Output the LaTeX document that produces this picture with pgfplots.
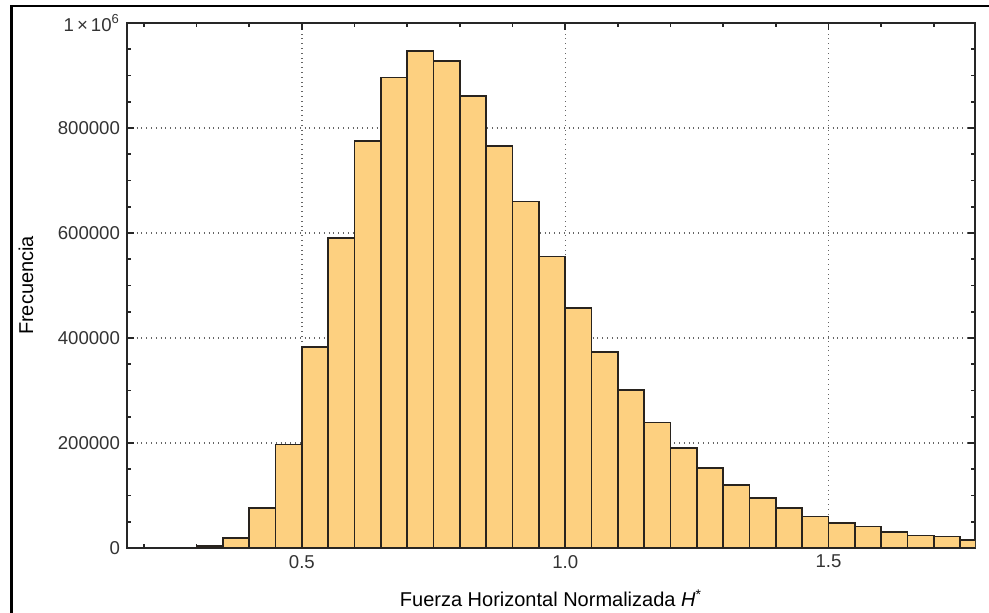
\documentclass[border=0pt]{standalone}
\usepackage{pgfplots}
\pgfplotsset{compat=1.18}
\usepackage{fontspec}
\setmainfont{Liberation Sans}
\definecolor{barfill}{RGB}{253,208,128}
\definecolor{baredge}{RGB}{40,35,30}
\begin{document}
\begin{tikzpicture}
\useasboundingbox (0,0) rectangle (494.5pt,306.5pt);
\begin{axis}[
  at={(63.5pt,32.5pt)}, anchor=south west,
  scale only axis, width=424pt, height=262.5pt,
  xmin=0.168, xmax=1.778, ymin=0, ymax=1000000,
  xtick={0.5,1.0,1.5},
  xticklabels={0.5,1.0,1.5},
  minor xtick={0.2,0.3,0.4,0.6,0.7,0.8,0.9,1.1,1.2,1.3,1.4,1.6,1.7},
  ytick={0,200000,400000,600000,800000,1000000},
  yticklabels={0,200000,400000,600000,800000,{1\,×\,10\textsuperscript{6}}},
  minor ytick={50000,100000,150000,250000,300000,350000,450000,500000,550000,650000,700000,750000,850000,900000,950000},
  scaled y ticks=false,
  /pgf/number format/assume math mode=true,
  tick align=inside,
  major tick length=3.5pt, minor tick length=2pt,
  tick style={line width=0.8pt, black!85},
  axis line style={line width=0.9pt, black!85},
  grid=major,
  major grid style={dotted, line width=0.7pt, black!60},
  tick label style={font=\fontsize{9.3}{10}\selectfont, text=black!80},
  xlabel={Fuerza Horizontal Normalizada \textit{H}\textsuperscript{*}},
  ylabel={Frecuencia},
  label style={font=\fontsize{9.6}{11}\selectfont, text=black!80},
  every axis x label/.style={at={(axis description cs:0.5,0)}, anchor=center, yshift=-25.3pt},
  every axis y label/.style={at={(axis description cs:0,0.5)}, xshift=-50.5pt, anchor=center, rotate=90},
  axis on top=false,
]
\addplot[ybar interval, fill=barfill, draw=baredge, line width=0.85pt] coordinates {
(0.30,3500) (0.35,19000) (0.40,76000) (0.45,197000) (0.50,383000)
(0.55,590000) (0.60,775000) (0.65,896000) (0.70,947000) (0.75,928000)
(0.80,861000) (0.85,766000) (0.90,660000) (0.95,555000) (1.00,457000)
(1.05,373000) (1.10,301000) (1.15,239000) (1.20,191000) (1.25,152000)
(1.30,120000) (1.35,95000) (1.40,76000) (1.45,60000) (1.50,47000)
(1.55,41000) (1.60,31000) (1.65,24000) (1.70,22000) (1.75,15000)
(1.80,15000)
};
\end{axis}
\draw[line width=1.4pt, black] (5.7pt,0) -- (5.7pt,303.5pt) -- (494.5pt,303.5pt);
\end{tikzpicture}
\end{document}
